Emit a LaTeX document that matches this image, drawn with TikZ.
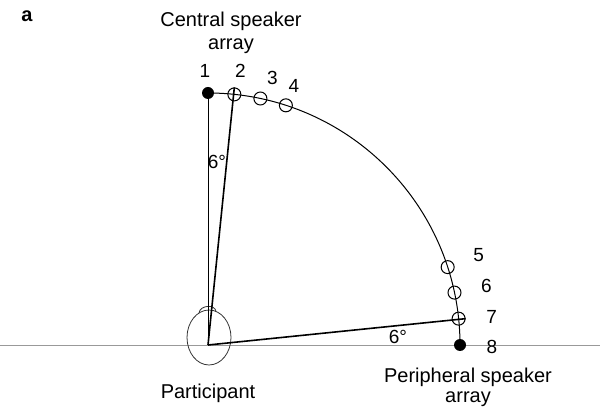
\documentclass[tikz,border=0pt]{standalone}
\usepackage{fontspec}
\setmainfont{Liberation Sans}
\usetikzlibrary{positioning}

\tikzset{
  spk/.style={circle, draw, line width=1pt, minimum size=13pt, inner sep=0pt},
  spkon/.style={circle, fill, minimum size=12pt, inner sep=0pt},
  num/.style={font=\fontsize{19}{21}\selectfont, inner sep=0pt},
  lbl/.style={font=\fontsize{20}{23}\selectfont, align=center, inner sep=0pt, anchor=base},
  ray/.style={line width=1.6pt},
}

\begin{document}
\begin{tikzpicture}[x=1pt,y=1pt]
\useasboundingbox (0,0) rectangle (600,407);
\coordinate (O) at (208,62);

% ground line and head
\draw[gray!80, line width=0.8pt] (0,62) -- (600,62);
\draw[black!80, line width=0.8pt] (209,69.5) ellipse[x radius=22, y radius=27.5];
\draw[black!80, line width=0.8pt] (199,94) .. controls (200,102) and (215,103) .. (216,95.6);

% speaker arc
\draw[line width=1pt] ([shift={(90:252)}]O) arc[start angle=90, end angle=0, radius=252];

\node[spkon] (s1) at ([shift={(90:252)}]O) {};
\node[spkon] (s8) at ([shift={(0:252)}]O) {};
\foreach \n/\a in {2/84,3/78,4/72,5/18,6/12,7/6}
  \node[spk] (s\n) at ([shift={(\a:252)}]O) {};

% rays
\draw[line width=0.9pt] (O) -- (s1.center);
\draw[ray] (O) -- (s2.north);
\draw[ray] (O) -- (s7.east);

% speaker numbers
\node[num] (n1) at ([shift={(-3,22)}]s1) {1};
\node[num] (n2) at ([shift={(6,24)}]s2) {2};
\node[num] (n3) at ([shift={(12,20.5)}]s3) {3};
\node[num] (n4) at ([shift={(8,19)}]s4) {4};
\node[num] (n5) at ([shift={(31,12)}]s5) {5};
\node[num] (n6) at ([shift={(32,7)}]s6) {6};
\node[num] (n7) at ([shift={(33,1.5)}]s7) {7};
\node[num] (n8) at ([shift={(32,-2)}]s8) {8};

% angles
\node[num] (ang1) at (217,245) {6°};
\node[num] (ang2) at (398,70) {6°};

% captions
\node[lbl, font=\fontsize{20}{23}\selectfont\bfseries] (panel) at (27,385) {a};
\node[lbl, font=\fontsize{20}{23}\selectfont] (central) at (231,357) {Central speaker\\array};
\node[lbl, font=\fontsize{20}{21}\selectfont] (periph) at (468,4) {Peripheral speaker\\array};
\node[lbl] (part) at (208,8) {Participant};
\end{tikzpicture}
\end{document}
